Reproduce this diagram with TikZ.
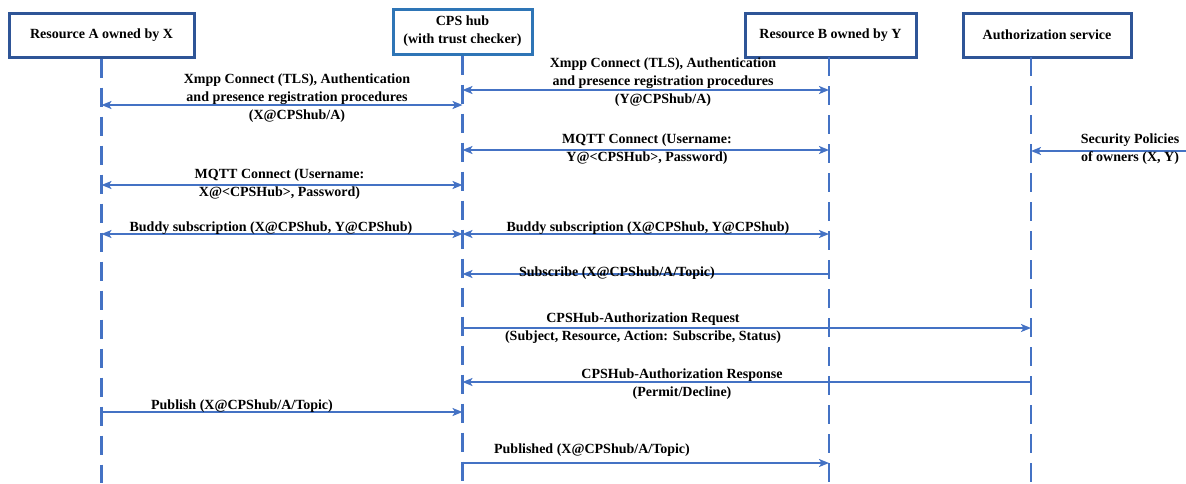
\documentclass[tikz,border=0pt]{standalone}
\usepackage{fontspec}
\setmainfont{Liberation Serif}
\usetikzlibrary{arrows.meta}
\definecolor{boxblue}{HTML}{2F5597}
\definecolor{hubblue}{HTML}{2E75B6}
\definecolor{lineblue}{HTML}{4472C4}
\begin{document}
\begin{tikzpicture}[x=1pt,y=-1pt,
  font=\bfseries\fontsize{14}{18}\selectfont,
  >={Stealth[length=10pt,width=8pt,inset=2.5pt]},
  actor/.style={draw=boxblue, line width=3pt, fill=white, minimum height=44pt,
                align=center, inner sep=0pt},
  lifeline/.style={draw=lineblue, line width=2.4pt, dash pattern=on 19pt off 10pt},
  msg/.style={draw=lineblue, line width=2.2pt},
  lbl/.style={align=center, inner sep=0pt, text=black}]

\useasboundingbox (0,0) rectangle (1186,483);

% participants
\node[actor, minimum width=185pt] (A) at (101.5,35) {Resource A owned by X};
\node[actor, draw=hubblue, minimum width=139pt, minimum height=45pt] (H) at (462.5,31.5)
  {CPS hub\\(with trust checker)};
\node[actor, minimum width=171pt] (B) at (830.5,35) {Resource B owned by Y};
\node[actor, minimum width=168pt] (Z) at (1047,35) {Authorization service};

% lifeline ends
\coordinate (tA) at (A.south);
\coordinate (tH) at (H.south);
\coordinate (tB) at (829,57);
\coordinate (tZ) at (1031,57);
\coordinate (bot) at (0,483);
\coordinate (edge) at (1186,0);

\draw[lifeline] (tA) -- (tA |- bot);
\draw[lifeline] (tH) -- (tH |- bot);
\draw[lifeline] (tB) -- (tB |- bot);
\draw[lifeline] (tZ) -- (tZ |- bot);

% message levels
\coordinate (m1) at (0,105);
\coordinate (m2) at (0,90);
\coordinate (m3) at (0,150);
\coordinate (m4) at (0,151);
\coordinate (m5) at (0,185);
\coordinate (m6) at (0,234);
\coordinate (m7) at (0,274);
\coordinate (m8) at (0,328);
\coordinate (m9) at (0,382);
\coordinate (m10) at (0,412);
\coordinate (m11) at (0,463);

% messages
\draw[msg,<->] (tA |- m1) -- (tH |- m1);
\draw[msg,<->] (tH |- m2) -- (tB |- m2);
\draw[msg,<->] (tH |- m3) -- (tB |- m3);
\draw[msg,->]  (edge |- m4) -- (tZ |- m4);
\draw[msg,<->] (tA |- m5) -- (tH |- m5);
\draw[msg,<->] (tA |- m6) -- (tH |- m6);
\draw[msg,<->] (tH |- m6) -- (tB |- m6);
\draw[msg,->]  (tB |- m7) -- (tH |- m7);
\draw[msg,->]  (tH |- m8) -- (tZ |- m8);
\draw[msg,->]  (tZ |- m9) -- (tH |- m9);
\draw[msg,->]  (tA |- m10) -- (tH |- m10);
\draw[msg,->]  (tH |- m11) -- (tB |- m11);

% message labels
\node[lbl] (l1) at (297,98) {Xmpp Connect (TLS), Authentication\\and presence registration procedures\\(X@CPShub/A)};
\node[lbl] (l2) at (663,82) {Xmpp Connect (TLS), Authentication\\and presence registration procedures\\(Y@CPShub/A)};
\node[lbl] (l3) at (647,149.5) {MQTT Connect (Username:\\Y@<CPSHub>, Password)};
\node[lbl] (l4) at (1130,149.5) {Security Policies\\of owners (X, Y)};
\node[lbl] (l5) at (279.5,184) {MQTT Connect (Username:\\X@<CPSHub>, Password)};
\node[lbl] (l6) at (271,228) {Buddy subscription (X@CPShub, Y@CPShub)};
\node[lbl] (l7) at (648,228) {Buddy subscription (X@CPShub, Y@CPShub)};
\node[lbl] (l8) at (617,273) {Subscribe (X@CPShub/A/Topic)};
\node[lbl] (l9) at (643,328.5) {CPSHub-Authorization Request\\(Subject, Resource, Action: Subscribe, Status)};
\node[lbl] (l10) at (682,384.5) {CPSHub-Authorization Response\\(Permit/Decline)};
\node[lbl] (l11) at (242,406) {Publish (X@CPShub/A/Topic)};
\node[lbl] (l12) at (592,450) {Published (X@CPShub/A/Topic)};
\end{tikzpicture}
\end{document}
